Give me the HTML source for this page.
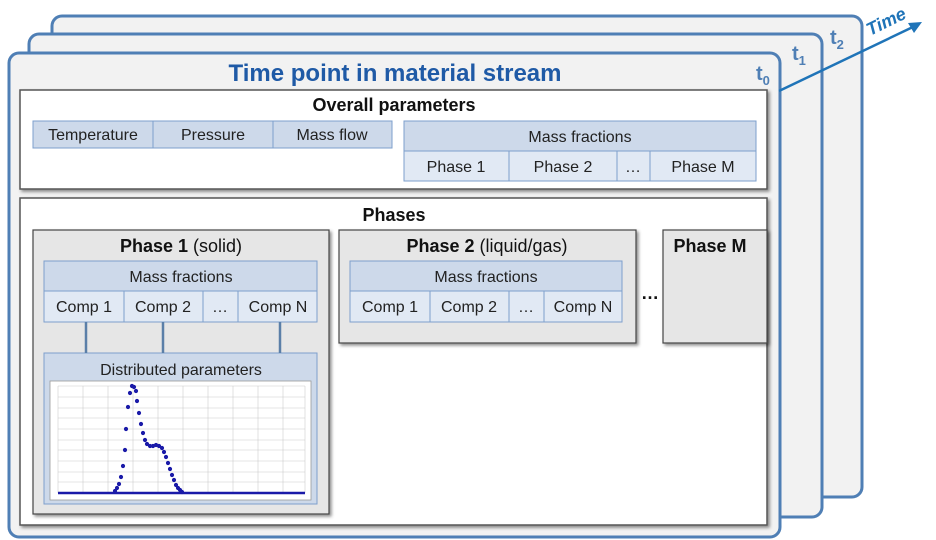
<!DOCTYPE html>
<html><head><meta charset="utf-8"><style>
html,body{margin:0;padding:0;background:#fff;width:936px;height:540px;overflow:hidden}
text{font-family:"Liberation Sans",Arial,sans-serif}
</style></head><body>
<svg width="936" height="540" viewBox="0 0 936 540" xmlns="http://www.w3.org/2000/svg">
<defs><filter id="sh" x="-5%" y="-5%" width="115%" height="115%"><feDropShadow dx="2" dy="2" stdDeviation="1.5" flood-color="#000" flood-opacity="0.45"/></filter></defs>
<rect x="52" y="16" width="810" height="481" rx="10" fill="#f2f2f2" stroke="#4f7fb5" stroke-width="3"/>
<rect x="29" y="34" width="793" height="483" rx="10" fill="#f2f2f2" stroke="#4f7fb5" stroke-width="3"/>
<rect x="9" y="53" width="771" height="484" rx="10" fill="#f2f2f2" stroke="#4f7fb5" stroke-width="3"/>
<text x="395" y="81" text-anchor="middle" font-size="24" font-weight="bold" fill="#1f5aa6">Time point in material stream</text>
<text x="756" y="80" font-size="20" font-weight="bold" fill="#4f7fb5">t<tspan font-size="13" dy="5">0</tspan></text>
<text x="792" y="60" font-size="20" font-weight="bold" fill="#4f7fb5">t<tspan font-size="13" dy="5">1</tspan></text>
<text x="830" y="44" font-size="20" font-weight="bold" fill="#4f7fb5">t<tspan font-size="13" dy="5">2</tspan></text>
<line x1="779" y1="91" x2="915" y2="26" stroke="#1f74b8" stroke-width="2.5"/>
<polygon points="922,22 908,23 914,33" fill="#1f74b8"/>
<text x="870" y="36" font-size="18" font-weight="bold" font-style="italic" fill="#1f74b8" transform="rotate(-26 870 36)">Time</text>
<rect x="20" y="90" width="747" height="99" fill="#fff" stroke="#555" stroke-width="1.5" filter="url(#sh)"/>
<text x="394" y="111" text-anchor="middle" font-size="18" font-weight="bold" fill="#111">Overall parameters</text>
<g stroke="#7d9fcc" stroke-width="1">
<rect x="33" y="121" width="359" height="27" fill="#cdd9ea"/>
<line x1="153" y1="121" x2="153" y2="148"/><line x1="273" y1="121" x2="273" y2="148"/>
<rect x="404" y="121" width="352" height="30" fill="#cdd9ea"/>
<rect x="404" y="151" width="352" height="30" fill="#e1e9f4"/>
<line x1="509" y1="151" x2="509" y2="181"/><line x1="617" y1="151" x2="617" y2="181"/><line x1="650" y1="151" x2="650" y2="181"/>
</g>
<g font-size="16" fill="#222" text-anchor="middle">
<text x="93" y="140">Temperature</text><text x="213" y="140">Pressure</text><text x="332" y="140">Mass flow</text>
<text x="580" y="142">Mass fractions</text>
<text x="456" y="172">Phase 1</text><text x="563" y="172">Phase 2</text><text x="633" y="172">…</text><text x="703" y="172">Phase M</text>
</g>
<rect x="20" y="198" width="747" height="327" fill="#fff" stroke="#555" stroke-width="1.5" filter="url(#sh)"/>
<text x="394" y="221" text-anchor="middle" font-size="18" font-weight="bold" fill="#111">Phases</text>
<rect x="33" y="230" width="296" height="284" fill="#e6e6e6" stroke="#444" stroke-width="1.2" filter="url(#sh)"/>
<rect x="339" y="230" width="297" height="113" fill="#e6e6e6" stroke="#444" stroke-width="1.2" filter="url(#sh)"/>
<rect x="663" y="230" width="104" height="113" fill="#e6e6e6" stroke="#444" stroke-width="1.2" filter="url(#sh)"/>
<text x="181" y="252" text-anchor="middle" font-size="18" fill="#111"><tspan font-weight="bold">Phase 1</tspan> (solid)</text>
<text x="487" y="252" text-anchor="middle" font-size="18" fill="#111"><tspan font-weight="bold">Phase 2</tspan> (liquid/gas)</text>
<text x="710" y="252" text-anchor="middle" font-size="18" font-weight="bold" fill="#111">Phase M</text>
<text x="650" y="299" text-anchor="middle" font-size="18" font-weight="bold" fill="#111">…</text>
<g stroke="#7d9fcc" stroke-width="1">
<rect x="44" y="261" width="273" height="30" fill="#cdd9ea"/>
<rect x="44" y="291" width="273" height="31" fill="#e1e9f4"/>
<line x1="124" y1="291" x2="124" y2="322"/><line x1="203" y1="291" x2="203" y2="322"/><line x1="238" y1="291" x2="238" y2="322"/>
<rect x="350" y="261" width="272" height="30" fill="#cdd9ea"/>
<rect x="350" y="291" width="272" height="31" fill="#e1e9f4"/>
<line x1="430" y1="291" x2="430" y2="322"/><line x1="509" y1="291" x2="509" y2="322"/><line x1="544" y1="291" x2="544" y2="322"/>
<rect x="44" y="353" width="273" height="151" fill="#cdd9ea"/>
</g>
<g stroke="#5b7fa8" stroke-width="2.5"><line x1="86" y1="322" x2="86" y2="353"/><line x1="163" y1="322" x2="163" y2="353"/><line x1="280" y1="322" x2="280" y2="353"/></g>
<g font-size="16" fill="#222" text-anchor="middle">
<text x="181" y="282">Mass fractions</text>
<text x="84" y="312">Comp 1</text><text x="163" y="312">Comp 2</text><text x="220" y="312">…</text><text x="278" y="312">Comp N</text>
<text x="486" y="282">Mass fractions</text>
<text x="390" y="312">Comp 1</text><text x="469" y="312">Comp 2</text><text x="526" y="312">…</text><text x="583" y="312">Comp N</text>
<text x="181" y="375">Distributed parameters</text>
</g>
<rect x="50" y="381" width="261" height="119" fill="#fff" stroke="#999" stroke-width="0.8"/>
<g stroke="#ccc" stroke-width="0.6">
<line x1="58" y1="386" x2="58" y2="493"/><line x1="83" y1="386" x2="83" y2="493"/><line x1="108" y1="386" x2="108" y2="493"/><line x1="133" y1="386" x2="133" y2="493"/><line x1="158" y1="386" x2="158" y2="493"/><line x1="183" y1="386" x2="183" y2="493"/><line x1="208" y1="386" x2="208" y2="493"/><line x1="233" y1="386" x2="233" y2="493"/><line x1="258" y1="386" x2="258" y2="493"/><line x1="283" y1="386" x2="283" y2="493"/><line x1="305" y1="386" x2="305" y2="493"/>
<line x1="58" y1="386" x2="305" y2="386"/><line x1="58" y1="397" x2="305" y2="397"/><line x1="58" y1="408" x2="305" y2="408"/><line x1="58" y1="418" x2="305" y2="418"/><line x1="58" y1="429" x2="305" y2="429"/><line x1="58" y1="440" x2="305" y2="440"/><line x1="58" y1="450" x2="305" y2="450"/><line x1="58" y1="461" x2="305" y2="461"/><line x1="58" y1="472" x2="305" y2="472"/><line x1="58" y1="482" x2="305" y2="482"/><line x1="58" y1="493" x2="305" y2="493"/>
</g>
<line x1="58" y1="493" x2="305" y2="493" stroke="#1a1aa8" stroke-width="2.5"/>
<g fill="#1a1aa8">
<circle cx="115" cy="491" r="2.1"/><circle cx="117" cy="488" r="2.1"/><circle cx="119" cy="484" r="2.1"/><circle cx="121" cy="477" r="2.1"/><circle cx="123" cy="466" r="2.1"/><circle cx="125" cy="450" r="2.1"/><circle cx="126" cy="429" r="2.1"/><circle cx="128" cy="407" r="2.1"/><circle cx="130" cy="393" r="2.1"/><circle cx="132" cy="386" r="2.1"/><circle cx="134" cy="387" r="2.1"/><circle cx="136" cy="391" r="2.1"/><circle cx="137" cy="401" r="2.1"/><circle cx="139" cy="413" r="2.1"/><circle cx="141" cy="424" r="2.1"/><circle cx="143" cy="433" r="2.1"/><circle cx="145" cy="440" r="2.1"/><circle cx="147" cy="444" r="2.1"/><circle cx="150" cy="446" r="2.1"/><circle cx="153" cy="446" r="2.1"/><circle cx="156" cy="445" r="2.1"/><circle cx="159" cy="446" r="2.1"/><circle cx="162" cy="448" r="2.1"/><circle cx="164" cy="452" r="2.1"/><circle cx="166" cy="457" r="2.1"/><circle cx="168" cy="463" r="2.1"/><circle cx="170" cy="469" r="2.1"/><circle cx="172" cy="475" r="2.1"/><circle cx="174" cy="480" r="2.1"/><circle cx="176" cy="485" r="2.1"/><circle cx="178" cy="488" r="2.1"/><circle cx="180" cy="490" r="2.1"/><circle cx="182" cy="492" r="2.1"/>
</g>
</svg>
</body></html>
